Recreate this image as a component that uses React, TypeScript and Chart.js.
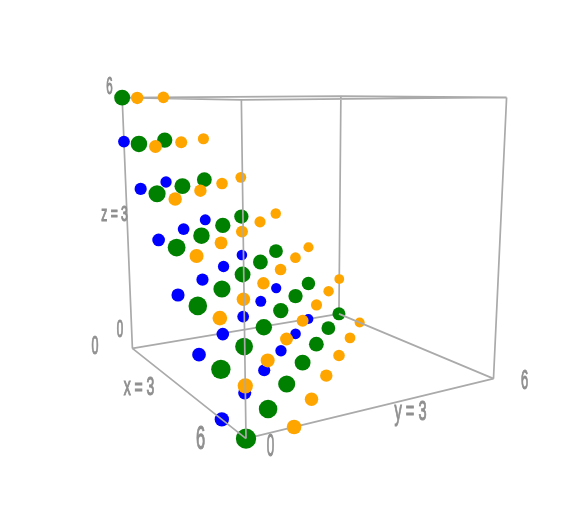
import React, { useEffect, useRef } from "react";
import { Chart, registerables } from "chart.js";

Chart.register(...registerables);

type P3 = [number, number, number];

// Data values on the three axes, 0..6 (x, y, z).
const bluePoints: P3[] = [
  [0, 0, 5],
  [1, 0, 4], [0, 1, 4],
  [2, 0, 3], [1, 1, 3], [0, 2, 3],
  [3, 0, 2], [2, 1, 2], [1, 2, 2], [0, 3, 2],
  [4, 0, 1], [3, 1, 1], [2, 2, 1], [1, 3, 1], [0, 4, 1],
  [5, 0, 0], [4, 1, 0], [3, 2, 0], [2, 3, 0], [1, 4, 0], [0, 5, 0],
];
const greenPoints: P3[] = [
  [0, 0, 6],
  [1, 0, 5], [0, 1, 5],
  [2, 0, 4], [1, 1, 4], [0, 2, 4],
  [3, 0, 3], [2, 1, 3], [1, 2, 3], [0, 3, 3],
  [4, 0, 2], [3, 1, 2], [2, 2, 2], [1, 3, 2], [0, 4, 2],
  [5, 0, 1], [4, 1, 1], [3, 2, 1], [2, 3, 1], [1, 4, 1], [0, 5, 1],
  [6, 0, 0], [5, 1, 0], [4, 2, 0], [3, 3, 0], [2, 4, 0], [1, 5, 0], [0, 6, 0],
];
const orangePoints: P3[] = [
  [1, 0, 6], [0, 1, 6],
  [2, 0, 5], [1, 1, 5], [0, 2, 5],
  [3, 0, 4], [2, 1, 4], [1, 2, 4], [0, 3, 4],
  [4, 0, 3], [3, 1, 3], [2, 2, 3], [1, 3, 3], [0, 4, 3],
  [5, 0, 2], [4, 1, 2], [3, 2, 2], [2, 3, 2], [1, 4, 2], [0, 5, 2],
  [6, 0, 1], [5, 1, 1], [4, 2, 1], [3, 3, 1], [2, 4, 1], [1, 5, 1], [0, 6, 1],
  [6, 1, 0], [5, 2, 0], [4, 3, 0], [3, 4, 0], [2, 5, 0], [1, 6, 0],
];

// Edges of the frame, as pairs of corners.
const backEdges: [P3, P3][] = [
  [[0, 0, 0], [0, 6, 0]],
  [[0, 0, 0], [0, 0, 6]],
  [[0, 6, 0], [0, 6, 6]],
  [[0, 0, 6], [6, 0, 6]],
  [[0, 0, 6], [0, 6, 6]],
  [[0, 6, 6], [6, 6, 6]],
  [[6, 0, 6], [6, 6, 6]],
  [[6, 6, 0], [6, 6, 6]],
  [[6, 0, 0], [6, 6, 0]],
];
const frontEdges: [P3, P3][] = [
  [[6, 0, 0], [6, 0, 6]],
  [[0, 0, 0], [6, 0, 0]],
  [[0, 6, 0], [6, 6, 0]],
];

const tickLabels = [
  { text: "6", x: 109.5, y: 88, size: 23, sx: 0.5 },
  { text: "z = 3", x: 114.5, y: 214.5, size: 22, sx: 0.55 },
  { text: "0", x: 120, y: 331, size: 23, sx: 0.5, clipRight: 123 },
  { text: "0", x: 95, y: 347, size: 25, sx: 0.5 },
  { text: "x = 3", x: 139, y: 388, size: 25, sx: 0.56 },
  { text: "6", x: 200.5, y: 440, size: 33, sx: 0.5 },
  { text: "0", x: 270.5, y: 447, size: 32, sx: 0.42 },
  { text: "y = 3", x: 410.5, y: 412, size: 28, sx: 0.52 },
  { text: "6", x: 524.5, y: 382, size: 27, sx: 0.48 },
];

const BLUE = "#0000ff";
const GREEN = "#008000";
const ORANGE = "#ffa500";
const FRAME = "#aaaaaa";
const TEXT = "#8f8f8f";
const GREEN_SIZE = 7.5;
const SMALL_SIZE = 5.6;

// Perspective camera fitted to the frame's corners.
const depthOf = ([x, y, z]: P3) => 1 - (0.2602 * x) / 6 + (0.1518 * y) / 6 - (0.057 * z) / 6;
const project = (p: P3) => {
  const [x, y, z] = p;
  const w = depthOf(p);
  return {
    x: (132.4 + (49.6 * x + 258 * y - 17.2 * z) / 6) / w,
    y: (348.4 + (-23.9 * x + 13.1 * y - 256.3 * z) / 6) / w,
  };
};

const edgeData = (edges: [P3, P3][]) =>
  edges.flatMap(([a, b]) => [project(a), project(b), { x: NaN, y: NaN }]);

const marks = [
  ...bluePoints.map((p) => ({ p, color: BLUE, size: SMALL_SIZE })),
  ...greenPoints.map((p) => ({ p, color: GREEN, size: GREEN_SIZE })),
  ...orangePoints.map((p) => ({ p, color: ORANGE, size: SMALL_SIZE })),
].sort((a, b) => depthOf(b.p) - depthOf(a.p));

const labelPlugin = {
  id: "boxLabels",
  afterDatasetsDraw(chart: any) {
    const { ctx, scales } = chart;
    for (const l of tickLabels) {
      ctx.save();
      if (l.clipRight) {
        ctx.beginPath();
        ctx.rect(0, 0, scales.x.getPixelForValue(l.clipRight), chart.height);
        ctx.clip();
      }
      ctx.translate(scales.x.getPixelForValue(l.x), scales.y.getPixelForValue(l.y));
      ctx.scale(l.sx, 1);
      ctx.font = `${l.size}px "Liberation Sans"`;
      ctx.fillStyle = TEXT;
      ctx.strokeStyle = TEXT;
      ctx.lineWidth = 1.1;
      ctx.textAlign = "center";
      ctx.textBaseline = "middle";
      ctx.strokeText(l.text, 0, 0);
      ctx.fillText(l.text, 0, 0);
      ctx.restore();
    }
  },
};

export default function App() {
  const ref = useRef<HTMLCanvasElement>(null);
  useEffect(() => {
    if (!ref.current) return;
    const lineStyle = {
      showLine: true,
      borderColor: FRAME,
      borderWidth: 1.7,
      pointRadius: 0,
      spanGaps: false,
      tension: 0,
    };
    const chart = new Chart(ref.current, {
      type: "scatter",
      data: {
        datasets: [
          { label: "frame back", data: edgeData(backEdges), order: 3, ...lineStyle },
          {
            label: "points",
            data: marks.map((m) => project(m.p)),
            order: 2,
            showLine: false,
            backgroundColor: marks.map((m) => m.color),
            borderWidth: 0,
            pointRadius: marks.map((m) => m.size / depthOf(m.p)),
          },
          { label: "frame front", data: edgeData(frontEdges), order: 1, ...lineStyle },
        ],
      },
      options: {
        animation: false,
        responsive: false,
        layout: { padding: 0, autoPadding: false },
        plugins: { legend: { display: false }, tooltip: { enabled: false } },
        scales: {
          x: { type: "linear", min: 0, max: 580, display: false },
          y: { type: "linear", min: 0, max: 522, reverse: true, display: false },
        },
      },
      plugins: [labelPlugin],
    } as any);
    return () => chart.destroy();
  }, []);
  return (
    <canvas
      ref={ref}
      width={580}
      height={522}
      style={{ position: "absolute", left: 0, top: 0, width: 580, height: 522, filter: "blur(0.7px)" }}
    />
  );
}
